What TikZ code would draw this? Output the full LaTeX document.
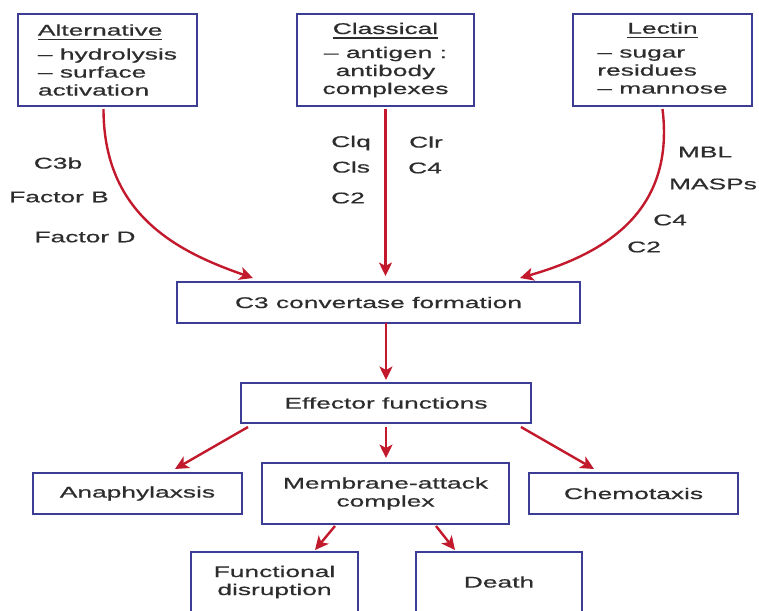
\documentclass[tikz,border=0pt]{standalone}
\usepackage{fontspec}
\setmainfont[FakeStretch=1.7,FakeBold=0.6]{Liberation Sans}
\usetikzlibrary{arrows.meta}
\definecolor{boxblue}{RGB}{60,62,150}
\definecolor{arrred}{RGB}{195,25,45}
\definecolor{txt}{RGB}{45,45,45}
\newcommand\dgfs{\fontsize{15.5}{18}\selectfont}
\newcommand\dgul[1]{\setbox0\hbox{#1}\rlap{\rule[-4.5pt]{\wd0}{1.3pt}}\box0}
\begin{document}
\begin{tikzpicture}[x=1pt,y=-1pt,
  box/.style={draw=boxblue,line width=2.7pt,text=txt,inner sep=0pt,outer sep=0pt,font=\dgfs},
  arr/.style={draw=arrred,line width=2.4pt,-{Stealth[length=13.5pt,width=13pt,inset=3.5pt]}},
  lbl/.style={text=txt,font=\dgfs,inner sep=0pt}]
\useasboundingbox (0,0) rectangle (759,610);
\fill[white] (0,0) rectangle (759,610);
\clip (0,0) rectangle (759,610);

% top boxes
\node[box,minimum width=179pt,minimum height=92pt,align=left] (alt) at (107.5,60)
  {\dgul{Alternative}\\[6pt]– hydrolysis\\– surface\\activation};
\node[box,minimum width=177pt,minimum height=92pt,align=center] (cls) at (385.5,60)
  {\dgul{Classical}\\[6pt]– antigen :\\antibody\\complexes};
\node[box,minimum width=179pt,minimum height=92pt] (lec) at (662.5,60)
  {\begin{tabular}{@{}l@{}}\multicolumn{1}{@{}c@{}}{\dgul{Lectin}}\\[6pt]– sugar\\residues\\– mannose\end{tabular}};

% middle
\node[box,minimum width=403pt,minimum height=41pt] (c3) at (378.5,302.5) {C3 convertase formation};
\node[box,minimum width=290pt,minimum height=40pt] (eff) at (386,403) {Effector functions};

% effector row
\node[box,minimum width=209pt,minimum height=41pt] (anaph) at (137.5,493.5) {Anaphylaxsis};
\node[box,minimum width=247pt,minimum height=61pt,align=center] (mac) at (385.5,493.5) {Membrane-attack\\complex};
\node[box,minimum width=209pt,minimum height=41pt] (chemo) at (633.5,493.5) {Chemotaxis};

% bottom row
\node[box,minimum width=167pt,minimum height=60pt,align=center] (func) at (274.5,582) {Functional\\disruption};
\node[box,minimum width=166pt,minimum height=60pt] (death) at (499,582) {Death};

% labels
\node[lbl] (l1) at (58,163) {C3b};
\node[lbl] (l2) at (59,197) {Factor B};
\node[lbl] (l3) at (85,237) {Factor D};
\node[lbl] (l4) at (351,143) {Clq};
\node[lbl] (l5) at (351,167) {Cls};
\node[lbl] (l6) at (348,198) {C2};
\node[lbl] (l7) at (426,142) {Clr};
\node[lbl] (l8) at (425,168) {C4};
\node[lbl] (l9) at (705,152) {MBL};
\node[lbl] (l10) at (713,184) {MASPs};
\node[lbl] (l11) at (670,220) {C4};
\node[lbl] (l12) at (644,247) {C2};

% connectors
\draw[arr] ([xshift=-4pt,yshift=-3pt]alt.south) .. controls +(0,106) and +(-75,-26) .. ([xshift=76pt,yshift=4pt]c3.north west);
\draw[arr] ([yshift=-3pt]cls.south) -- ([yshift=6pt]cls.south |- c3.north);
\draw[arr] ([yshift=-3pt]lec.south) .. controls +(13,106) and +(80,-23) .. ([xshift=-60pt,yshift=4pt]c3.north east);
\draw[arr] (eff.north |- c3.south) -- ([yshift=3pt]eff.north);
\draw[arr] ([xshift=7pt,yshift=-4pt]eff.south west) -- ([xshift=37.5pt,yshift=4pt]anaph.north);
\draw[arr] ([yshift=-4pt]eff.south) -- ([yshift=5pt]eff.south |- mac.north);
\draw[arr] ([xshift=-10pt,yshift=-4pt]eff.south east) -- ([xshift=-39.5pt,yshift=4pt]chemo.north);
\draw[arr] ([xshift=-50.5pt,yshift=-2pt]mac.south) -- ([xshift=40.5pt,yshift=2pt]func.north);
\draw[arr] ([xshift=50.5pt,yshift=-2pt]mac.south) -- ([xshift=-44pt,yshift=2pt]death.north);
\end{tikzpicture}
\end{document}
